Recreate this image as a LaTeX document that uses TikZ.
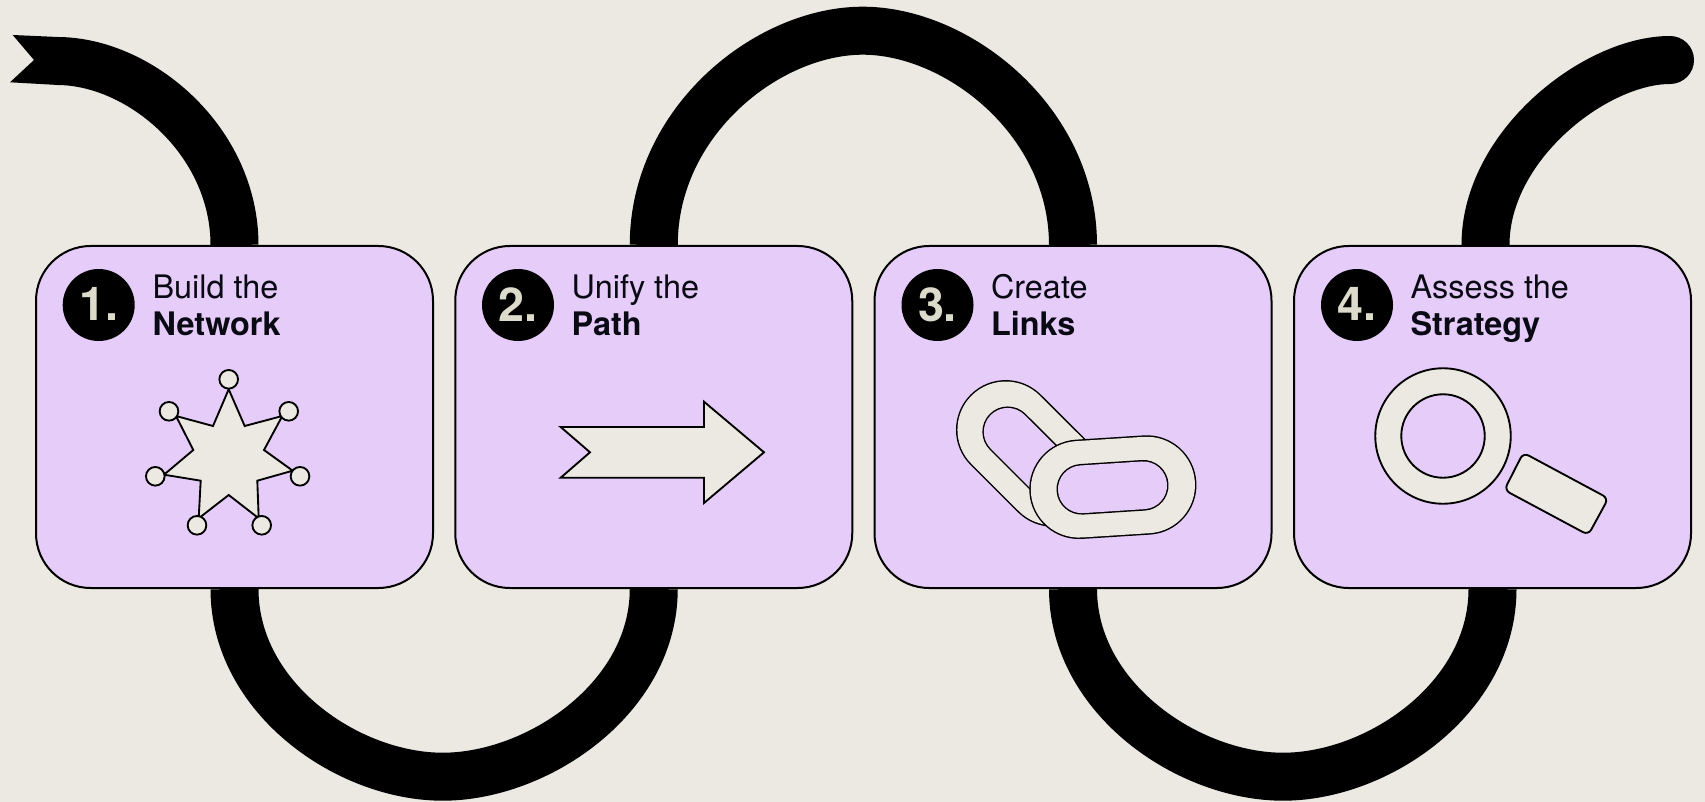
\documentclass[tikz,border=0pt]{standalone}
\usepackage{fontspec}
\setmainfont{TeX Gyre Heros}
\usetikzlibrary{backgrounds}
\definecolor{paper}{HTML}{EBE9E1}
\definecolor{lilac}{HTML}{E6CCF9}
\definecolor{numc}{HTML}{DDDCCC}
\definecolor{ink}{HTML}{0A0A14}
\tikzset{
 card/.style={draw=black,fill=lilac,line width=1.5pt,rounded corners=41pt,minimum width=297.75pt,minimum height=256.5pt,inner sep=0pt},
 ribbon/.style={draw=black,line width=36pt},
 badge/.style={circle,fill=black,minimum size=54pt,inner sep=0pt,text=numc,font=\fontsize{35}{35}\selectfont\bfseries},
 head/.style={anchor=base west,inner sep=0pt,text=ink,font=\fontsize{24.3}{24.3}\selectfont},
 icon/.style={draw=black,fill=paper,line width=1.4pt,line join=miter},
}
\newcommand{\linkouter}[2]{%
 \draw[line cap=round,line width=74.6pt,black] #1 -- #2;
 \draw[line cap=round,line width=72.4pt,paper] #1 -- #2;
}
\newcommand{\linkhole}[2]{%
 \draw[line cap=round,line width=38pt,black] #1 -- #2;
 \draw[line cap=round,line width=35.8pt,lilac] #1 -- #2;
}
\begin{document}
\begin{tikzpicture}[x=0.75pt,y=-0.75pt]
\useasboundingbox (0,0) rectangle (1705,802);
% cards
\node[card] (card1) at (234.5,417) {};
\node[card] (card2) at (653.75,417) {};
\node[card] (card3) at (1073,417) {};
\node[card] (card4) at (1492.5,417) {};
% ribbon
\coordinate (start) at (57,61);
\coordinate (low1) at (442.7,776.7);
\coordinate (top2) at (862.7,30.7);
\coordinate (low2) at (1283,776.7);
\coordinate (finish) at (1670,60);
\begin{pgfonlayer}{background}
\fill[paper] (0,0) rectangle (1705,802);
\fill[black] (12.7,35) -- (34,60) -- (10,82.3) -- (58,85) -- (58,37) -- cycle;
\draw[ribbon] (start) .. controls (140,61) and (234.5,141) .. (card1.north);
\draw[ribbon] (card1.south) .. controls (234.5,698) and (347.7,776.7) .. (low1)
  .. controls (537.7,776.7) and (653.75,698) .. (card2.south);
\draw[ribbon] (card2.north) .. controls (653.75,121) and (767.7,30.7) .. (top2)
  .. controls (957.7,30.7) and (1073,121) .. (card3.north);
\draw[ribbon] (card3.south) .. controls (1073,698) and (1188,776.7) .. (low2)
  .. controls (1378,776.7) and (1492.5,698) .. (card4.south);
\draw[ribbon,line cap=round] ([xshift=-5.25pt]card4.north) .. controls (1485.3,146) and (1595,60) .. (finish);
\end{pgfonlayer}
% headings
\node[badge] (b1) at (98.7,305) {\raisebox{1pt}{1.}};
\node[badge] (b2) at (518,305) {\raisebox{1pt}{2.}};
\node[badge] (b3) at (937.5,305) {\raisebox{1pt}{3.}};
\node[badge] (b4) at (1357,305) {\raisebox{1pt}{4.}};
\node[head] (t1a) at (152.3,298) {Build the};
\node[head] (t1b) at (152.3,335.5) {\bfseries Network};
\node[head] (t2a) at (571.3,298) {Unify the};
\node[head] (t2b) at (571.3,335.5) {\bfseries Path};
\node[head] (t3a) at (990.8,298) {Create};
\node[head] (t3b) at (990.8,335.5) {\bfseries Links};
\node[head] (t4a) at (1410.3,298) {Assess the};
\node[head] (t4b) at (1410.3,335.5) {\bfseries Strategy};
% star
\draw[icon] (228.7,389.3) -- (244.7,426) -- (282.3,416) -- (264,450) -- (292.7,470.7) -- (257.3,480.7) -- (258.7,518.3) -- (228.7,495) -- (198.7,518.3) -- (200.7,480.7) -- (164,474.7) -- (193.3,450) -- (176,416) -- (213,426) -- cycle;
\foreach \p in {(228.7,379.3),(288.7,411.3),(169,411.3),(300,476.3),(155.3,476.3),(261.7,525.3),(197,525.3)}
  \draw[icon] \p circle[radius=7pt];
% arrow
\draw[icon] (560.7,427) -- (704,427) -- (704,401.7) -- (764,452.3) -- (704,503) -- (704,477.7) -- (560.7,477.7) -- (590,452.3) -- cycle;
% links
\linkouter{(1005.7,429.8)}{(1053,477)}
\linkhole{(1007.7,431.8)}{(1053,477)}
\linkouter{(1079,489.3)}{(1146.7,485)}
\linkhole{(1081.8,489.3)}{(1143.2,485.3)}
% magnifier
\draw[icon,even odd rule] (1443,436) circle[radius=50.8pt] (1443,436) circle[radius=31.3pt];
\draw[icon,rounded corners=4.5pt] (1523.3,452.7) -- (1608.3,498.3) -- (1588.3,535) -- (1504.3,490) -- cycle;
\end{tikzpicture}
\end{document}
